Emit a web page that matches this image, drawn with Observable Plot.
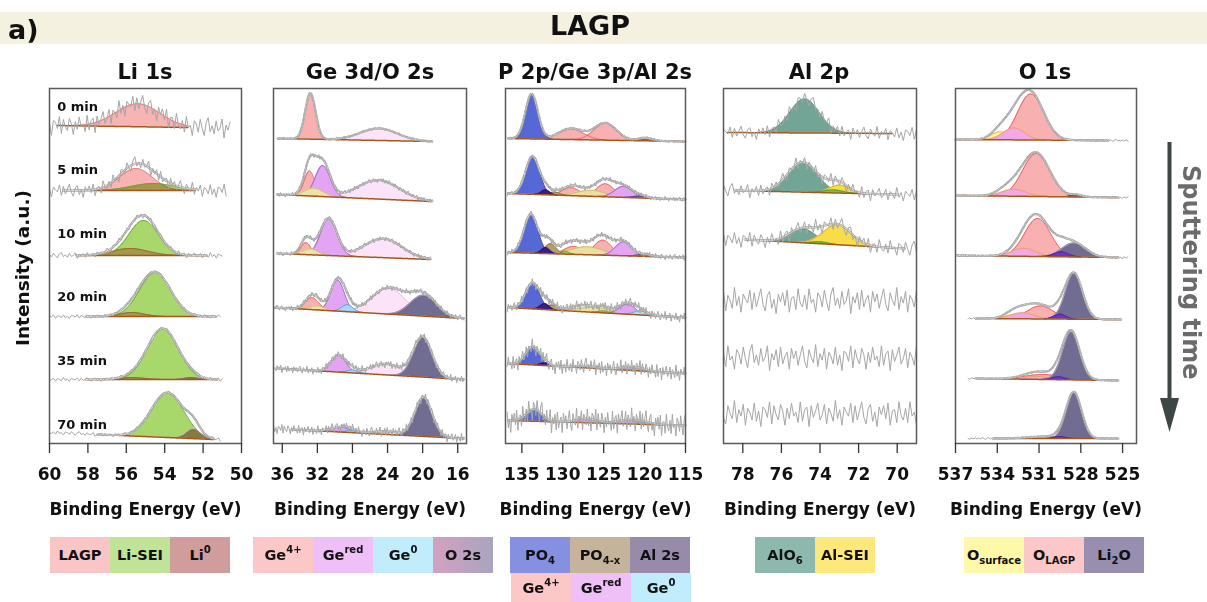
<!DOCTYPE html>
<html><head><meta charset="utf-8">
<script src="https://cdn.jsdelivr.net/npm/d3@7"></script>
<script src="https://cdn.jsdelivr.net/npm/@observablehq/plot@0.6"></script>
<style>
body{margin:0;width:1207px;height:602px;position:relative;overflow:hidden;background:#fff;font-family:"DejaVu Sans",sans-serif;font-weight:bold;color:#111;}
.abs{position:absolute;}
.ttl{position:absolute;font-size:21px;line-height:21px;white-space:nowrap;transform:translateX(-50%);}
.leg{position:absolute;display:flex;}
.leg > div{width:60px;height:36px;display:flex;align-items:center;justify-content:center;font-size:14.5px;white-space:nowrap;}
.leg.r2 > div{height:29px;}
.leg span{display:inline-block;line-height:16px;}
sup{font-size:10px;vertical-align:7px;line-height:0;}
sub{font-size:10px;vertical-align:-4px;line-height:0;}
.plotbox{position:absolute;top:86px;}
.plotbox svg{overflow:visible;}
</style></head><body>
<div class="abs" style="left:0;top:12px;width:1207px;height:32px;background:#f5f1e1;"></div>
<div class="abs" style="left:8px;top:16px;font-size:27px;line-height:27px;">a)</div>
<div class="abs" style="left:590px;top:12px;font-size:27px;line-height:27px;transform:translateX(-50%);">LAGP</div>
<div class="ttl" style="left:145px;top:62px;">Li 1s</div>
<div class="ttl" style="left:370px;top:62px;">Ge 3d/O 2s</div>
<div class="ttl" style="left:595px;top:62px;">P 2p/Ge 3p/Al 2s</div>
<div class="ttl" style="left:819px;top:62px;">Al 2p</div>
<div class="ttl" style="left:1045px;top:62px;">O 1s</div>
<div class="abs" style="left:13px;top:190px;font-size:18.5px;line-height:19px;writing-mode:vertical-rl;transform:rotate(180deg);white-space:nowrap;">Intensity (a.u.)</div>
<div class="abs" style="left:1179px;top:165px;font-size:24px;line-height:24px;writing-mode:vertical-rl;color:#6b6b6b;white-space:nowrap;">Sputtering time</div>
<svg class="abs" style="left:1150px;top:130px;" width="40" height="310">
  <line x1="19.5" y1="12" x2="19.5" y2="272" stroke="#3d4846" stroke-width="4"/>
  <polygon points="10,268 29,268 19.5,302" fill="#3d4846"/>
</svg>
<div id="plots"></div>
<div class="leg" style="left:50px;top:537px;"><div style="background:#f9c5c5"><span>LAGP</span></div><div style="background:#bfe397"><span>Li-SEI</span></div><div style="background:#d19c9c"><span>Li<sup>0</sup></span></div></div>
<div class="leg" style="left:253px;top:537px;"><div style="background:#fcc7c7"><span>Ge<sup>4+</sup></span></div><div style="background:#efbff8"><span>Ge<sup>red</sup></span></div><div style="background:#c1ecfb"><span>Ge<sup>0</sup></span></div><div style="background:linear-gradient(to right,#d3a1c1,#a9a4bf)"><span>O 2s</span></div></div>
<div class="leg" style="left:510px;top:537px;"><div style="background:#8690e0"><span>PO<sub>4</sub></span></div><div style="background:#c5b49b"><span>PO<sub>4-x</sub></span></div><div style="background:#988ba9"><span>Al 2s</span></div></div>
<div class="leg r2" style="left:511px;top:573px;"><div style="background:#fcc7c7"><span>Ge<sup>4+</sup></span></div><div style="background:#efbff8"><span>Ge<sup>red</sup></span></div><div style="background:#c1ecfb"><span>Ge<sup>0</sup></span></div></div>
<div class="leg" style="left:755px;top:537px;"><div style="background:#8db8ae"><span>AlO<sub>6</sub></span></div><div style="background:#fde97b"><span>Al-SEI</span></div></div>
<div class="leg" style="left:964px;top:537px;"><div style="background:#fdf9a9"><span>O<sub>surface</sub></span></div><div style="background:#fcc7c7"><span>O<sub>LAGP</sub></span></div><div style="background:#978eb0"><span>Li<sub>2</sub>O</span></div></div>
<script>
// ================= DATA =================
const times = ["0 min", "5 min", "10 min", "20 min", "35 min", "70 min"];

// peak rows: [component, centre (eV), height (a.u.), FWHM (eV)]
// background rows: [x start, x end, level at start, level at end] (stacked, a.u.)
// ---- Li 1s ----
const liDomain = [60, 50];
const liTicks = [60, 58, 56, 54, 52, 50];
const liSpan = [[60, 50.6], [60, 50.8], [60, 51.0], [60, 51.1], [60, 51.0], [60, 51.1]];
const liBg = [[59.6, 52.8, 318, 316], [59.3, 52.4, 253, 253], [58.6, 51.8, 188, 188], [58.1, 51.35, 127, 127], [58.1, 51.25, 64, 64], [57.5, 51.45, 9, 4]];
const liPeaks = [
  [["LAGP", 55.4, 23, 2.7]],
  [["LAGP", 55.5, 22, 2.0], ["SEI", 54.6, 7, 2.6]],
  [["LAGP", 55.8, 7, 2.2], ["SEI", 55.1, 35, 1.8]],
  [["LAGP", 55.7, 4, 1.5], ["SEI", 54.5, 44, 1.9]],
  [["LAGP", 55.7, 2, 1.5], ["SEI", 54.1, 51, 1.9], ["Li0", 52.6, 2, 0.8]],
  [["SEI", 53.85, 45, 2.0], ["Li0", 52.5, 9, 0.8]]
];
const liNoise = [10, 7, 3, 2, 2, 2];

// ---- Ge 3d / O 2s ----
const geDomain = [37, 15];
const geTicks = [36, 32, 28, 24, 20, 16];
const geSpan = [[36.6, 18.9], [36.6, 18.9], [36.6, 19.1], [37, 15.3], [37, 15.3], [37, 15.3]];
const geBg = [[36.5, 18.9, 305, 302], [36.6, 18.9, 249, 242], [36.6, 19.1, 190, 184], [36.8, 15.3, 136, 125], [36.5, 15.3, 75, 64], [34.9, 15.3, 14, 5]];
const gePeaks = [
  [["O2s", 25.0, 12, 5.0], ["Ge4", 32.8, 46, 1.4]],
  [["O2s", 25.0, 19, 5.5], ["Ge4", 32.9, 25, 1.4], ["Gered", 31.4, 31, 2.0], ["GeX", 32.4, 8, 2.5]],
  [["O2s", 24.5, 19, 5.0], ["Ge4", 33.3, 12, 1.3], ["Gered", 30.7, 37, 2.2], ["GeX", 32.8, 6, 2.0]],
  [["O2s", 23.9, 26, 4.5], ["Dark", 19.9, 21, 3.5], ["Ge4", 32.6, 12, 1.8], ["Gered", 29.7, 31, 1.8], ["GeX", 32.0, 4, 2.0], ["Ge0", 28.6, 7, 1.5]],
  [["O2s", 24.2, 11, 4.0], ["Dark", 20.0, 40, 2.5], ["Gered", 29.6, 17, 2.0], ["Ge0", 28.0, 3, 1.5]],
  [["O2s", 24.0, 3, 4.0], ["Dark", 19.9, 39, 2.3], ["Gered", 29.4, 5, 2.5], ["Ge0", 28.2, 2, 1.5]]
];
const geNoise = [1.5, 2.5, 2.5, 3, 4, 5];

// ---- P 2p / Ge 3p / Al 2s ----
const pDomain = [137, 115];
const pTicks = [135, 130, 125, 120, 115];
const pSpan = [[136.8, 115], [136.8, 115], [136.8, 115], [136.8, 115], [136.8, 115], [136.8, 115]];
const pBg = [[136.7, 115, 305, 302], [136.7, 115, 250, 244], [136.7, 115, 191, 186], [136.7, 115, 136, 126], [136.7, 115, 80, 70], [136.7, 115, 23, 18]];
const pPeaks = [
  [["PO4", 133.8, 45, 1.8], ["Ge4", 129.0, 11, 3.5], ["Ge4", 124.8, 17, 3.2], ["Al2s", 119.9, 3, 2.0]],
  [["PO4", 133.7, 38, 2.0], ["Indigo", 132.1, 5, 1.2], ["Tan", 131.0, 3, 1.5], ["Ge4", 129.0, 8, 2.5], ["GeX", 126.5, 6, 4.0], ["Ge4", 124.8, 13, 2.5], ["Gered", 122.6, 11, 2.5], ["Al2s", 120.5, 2, 2.0]],
  [["PO4", 133.9, 39, 2.0], ["Indigo", 132.1, 6, 1.2], ["Tan", 131.5, 10, 1.6], ["Green", 129.8, 3, 1.2], ["Ge4", 128.7, 8, 2.5], ["GeX", 127.0, 8, 4.5], ["Ge4", 125.1, 15, 2.5], ["Gered", 122.6, 14, 2.3], ["Al2s", 120.0, 2, 2.0]],
  [["PO4", 133.7, 26, 2.0], ["Indigo", 132.2, 6, 1.3], ["Tan", 131.3, 5, 1.5], ["Ge4", 128.0, 3, 3.0], ["GeX", 126.0, 5, 5.0], ["Green", 125.0, 2, 1.5], ["Gered", 122.1, 10, 2.3], ["Ge0", 120.5, 4, 2.0]],
  [["PO4", 133.7, 18, 2.0], ["Indigo", 132.2, 3, 1.2], ["Ge4", 127.0, 2, 3.0], ["Gered", 122.0, 3, 2.5], ["Ge0", 120.5, 2, 2.0]],
  [["PO4", 133.5, 12, 2.2], ["Gered", 127.0, 4, 3.0], ["Gered", 122.0, 4, 3.0], ["Ge0", 120.0, 2, 2.0]]
];
const pNoise = [1.5, 2.5, 3, 5, 8, 12];

// ---- Al 2p ----
const alDomain = [79, 69];
const alTicks = [78, 76, 74, 72, 70];
const alSpan = [[79, 69], [79, 69], [79, 69], [79, 69], [79, 69], [79, 69]];
const alBg = [[78.8, 70.25, 311, 310], [78.4, 70.0, 253, 249], [77.9, 69.6, 204, 195], [79, 69, 143, 143], [79, 69, 86, 86], [79, 69, 30, 30]];
const alFitted = [true, true, true, false, false, false];
const alPeaks = [
  [["AlO6", 74.8, 34, 1.8]],
  [["AlO6", 74.9, 30, 1.8], ["AlSEI", 73.0, 8, 1.2], ["AlG", 73.3, 3, 1.2]],
  [["AlO6", 74.9, 14, 1.6], ["AlSEI", 73.1, 20, 1.7], ["AlG", 74.0, 2, 1.0]],
  [], [], []
];
const alNoise = [7, 7, 8, 13, 13, 13];

// ---- O 1s ----
const oDomain = [537, 524];
const oTicks = [537, 534, 531, 528, 525];
const oSpan = [[537, 524.6], [537, 524.6], [537, 524.6], [536.1, 525.1], [536.1, 525.3], [536.1, 525.3]];
const oBg = [[537, 526.0, 304, 303], [536.9, 525.3, 248, 246], [536.9, 525.3, 188, 186], [535.55, 525.1, 125, 124], [535.55, 525.3, 65, 63], [534.3, 525.3, 5, 5]];
const oPeaks = [
  [["OLAGP", 531.6, 46, 2.2], ["Osurf", 533.8, 8, 1.5], ["Omix", 532.8, 12, 1.8]],
  [["OLAGP", 531.2, 43, 2.3], ["Osurf", 533.5, 3, 1.5], ["Omix", 532.8, 7, 2.0], ["Ov", 528.3, 2, 1.0]],
  [["OLAGP", 531.1, 38, 2.2], ["Omix", 532.1, 8, 2.0], ["Li2O", 528.5, 14, 2.0], ["Ov", 529.4, 5, 1.2]],
  [["OLAGP", 530.9, 13, 2.2], ["Osurf", 532.8, 4, 1.5], ["Omix", 532.2, 6, 2.0], ["Li2O", 528.5, 46, 1.45], ["Ov", 529.5, 5, 1.0]],
  [["OLAGP", 530.7, 5, 3.0], ["Omix", 531.2, 3, 2.0], ["Li2O", 528.7, 48, 1.45], ["Ov", 529.6, 3, 1.0]],
  [["OLAGP", 530.5, 2, 3.0], ["Li2O", 528.5, 46, 1.3], ["Ov", 529.5, 2, 1.0]]
];
const oNoise = [1, 1, 1.5, 1, 1, 1];

// measurement scatter (hand-typed residual pattern, fraction of row noise level)
const noiseSeq = [
  0.4, -0.7, 0.9, -0.2, 0.1, -0.9, 0.6, 0.3, -0.5, 0.8,
  -0.1, -0.8, 0.5, 1.0, -0.4, 0.2, -0.6, 0.7, -0.3, 0.0,
  0.9, -1.0, 0.3, -0.2, 0.6, -0.7, 0.8, -0.5, 0.1, 0.4,
  -0.9, 0.7, -0.1, 0.5, -0.6, 0.2, 0.9, -0.3, -0.8, 0.6,
  0.0, -0.4, 1.0, -0.7, 0.3, -0.2, 0.7, -0.9, 0.4, 0.1,
  -0.5, 0.8, -0.6, 0.2, -1.0, 0.5, 0.3, -0.3, 0.9, -0.8,
  0.6, -0.1, -0.5, 0.7, 0.2, -0.9, 0.4, -0.4, 0.8, -0.2,
  0.1, -0.7, 0.9, -0.6, 0.3, 0.5, -1.0, 0.6, -0.3, 0.2,
  0.8, -0.5, -0.1, 0.7, -0.8, 0.4, 0.0, -0.6, 1.0, -0.4,
  0.3, -0.9, 0.5, 0.1, -0.2, 0.8, -0.7, 0.6, -0.5, 0.2,
  0.9, -0.3, -0.8, 0.4, 0.7, -0.6, 0.1, -1.0, 0.5, -0.1,
  0.6, -0.4, 0.8, -0.9, 0.2, 0.3, -0.7, 0.9, -0.2, -0.5
];

// ================= STYLE =================
const liComps = [["LAGP", "#f8b3b3", "#e56a6a"], ["SEI", "#a8d86c", "#6b9d38"], ["Li0", "#cc9090", "#9a55a8"]];
const geComps = [["O2s", "#fde3f9", "#e3b0dd"], ["Dark", "#716c92", "#c99fb6"], ["Ge4", "#f8b0b0", "#e85858"], ["Gered", "#e3a5f3", "#9350c0"], ["GeX", "#ece3a8", "#c9b46a"], ["Ge0", "#a9d5f7", "#4a8fe0"]];
const pComps = [["Ge4", "#f8b0b0", "#e85858"], ["GeX", "#ece0a0", "#c8b060"], ["Gered", "#e3a5f3", "#9350c0"], ["Ge0", "#a9dcf7", "#4a9fe0"], ["Green", "#9ccc3c", "#6a9a1a"], ["Tan", "#b89b6c", "#8a6d3b"], ["PO4", "#5667d6", "#23307a"], ["Indigo", "#3b1d86", "#2a1060"], ["Al2s", "#7a5aa8", "#5a3a88"]];
const alComps = [["AlO6", "#72a596", "#5a8a7c"], ["AlSEI", "#f9dc4a", "#d4a520"], ["AlG", "#7ac142", "#4a9a20"]];
const oComps = [["OLAGP", "#f8b0b0", "#e85050"], ["Osurf", "#fbf29a", "#e6b030"], ["Omix", "#f3a8e6", "#e8a040"], ["Li2O", "#716c92", "#c0a8c0"], ["Ov", "#6a35c8", "#4a20a0"]];

function samples(a, b, step) {
  const n = Math.max(2, Math.ceil(Math.abs(a - b) / step));
  const out = [];
  for (let k = 0; k <= n; k++) out.push(a + (b - a) * k / n);
  return out;
}
const bgAt = (b, x) => b[2] + (b[3] - b[2]) * (x - b[0]) / (b[1] - b[0]);
const peakAt = (x, p) => { const s = p[3] / 2.3548; return p[2] * Math.exp(-0.5 * ((x - p[1]) / s) ** 2); };

function buildPanel(cfg) {
  const {left, frameW, dom, ticks, span, bg, peaks, noiseAmp, comps, blend, pxStep, fitted, seed, labels} = cfg;
  const unitPerPx = Math.abs(dom[0] - dom[1]) / frameW;
  const stepData = pxStep * unitPerPx, stepFine = 0.7 * unitPerPx;
  const compData = new Map(comps.map(c => [c[0], []]));
  const bgLine = [], env = [], dat = [];
  peaks.forEach((row, r) => {
    const b = bg[r];
    const fit = fitted ? fitted[r] : true;
    const sum = x => row.reduce((s, p) => s + peakAt(x, p), 0);
    if (fit) {
      const xs = samples(b[0], b[1], stepFine);
      for (const x of xs) bgLine.push({x, y: bgAt(b, x), z: r});
      row.forEach((p, j) => {
        for (const x of xs) {
          const v = peakAt(x, p);
          if (v > 0.12) compData.get(p[0]).push({x, lo: bgAt(b, x), hi: bgAt(b, x) + v, z: r + "-" + j});
        }
      });
      if (row.length > 1) for (const x of xs) env.push({x, y: bgAt(b, x) + sum(x), z: r});
    }
    samples(span[r][0], span[r][1], stepData).forEach((x, k) => {
      dat.push({x, y: bgAt(b, x) + sum(x) + noiseSeq[(k + r * 37 + seed * 53) % noiseSeq.length] * noiseAmp[r], z: r});
    });
  });
  const marks = [];
  for (const [name, fill, stroke] of comps) {
    const d = compData.get(name);
    const opt = {x: "x", y1: "lo", y2: "hi", z: "z", fill};
    if (blend) opt.mixBlendMode = blend;
    marks.push(Plot.areaY(d, opt));
    marks.push(Plot.lineY(d, {x: "x", y: "hi", z: "z", stroke, strokeWidth: 0.9}));
  }
  marks.push(Plot.lineY(bgLine, {x: "x", y: "y", z: "z", stroke: "#a5561b", strokeWidth: 1.5}));
  marks.push(Plot.lineY(env, {x: "x", y: "y", z: "z", stroke: "#a0a0a0", strokeWidth: 2.2}));
  marks.push(Plot.lineY(env, {x: "x", y: "y", z: "z", stroke: "#ffffff", strokeWidth: 0.9}));
  marks.push(Plot.lineY(dat, {x: "x", y: "y", z: "z", stroke: "#a6a6a6", strokeWidth: 1}));
  if (labels) {
    marks.push(Plot.text(labels, {x: () => dom[0] - 0.4, y: (d, i) => 337 - i * 63.6, text: d => d, textAnchor: "start", fontSize: 13, fontWeight: "bold", fill: "#111"}));
  }
  marks.push(Plot.frame({stroke: "#5a5a5a", strokeWidth: 1.5}));
  marks.push(Plot.axisX(ticks, {tickSize: 10, tickPadding: 14, stroke: "#333", strokeWidth: 1.3, label: "Binding Energy (eV)", labelAnchor: "center", labelArrow: "none", labelOffset: 71, tickFormat: d => String(d)}));
  const svg = Plot.plot({
    width: frameW + 60, height: 437,
    marginTop: 2, marginBottom: 80, marginLeft: 30, marginRight: 30,
    x: {domain: dom},
    y: {domain: [0, 355], axis: null},
    style: "font-family:'DejaVu Sans',sans-serif;font-size:17px;font-weight:bold;color:#111;background:none;overflow:visible;",
    marks
  });
  const box = document.createElement("div");
  box.className = "plotbox";
  box.style.left = (left - 30) + "px";
  box.appendChild(svg);
  document.getElementById("plots").appendChild(box);
}

buildPanel({left: 49, frameW: 192, dom: liDomain, ticks: liTicks, span: liSpan, bg: liBg, peaks: liPeaks, noiseAmp: liNoise, comps: liComps, blend: "multiply", pxStep: 2, seed: 1, labels: times});
buildPanel({left: 273, frameW: 193, dom: geDomain, ticks: geTicks, span: geSpan, bg: geBg, peaks: gePeaks, noiseAmp: geNoise, comps: geComps, pxStep: 1.2, seed: 2});
buildPanel({left: 505, frameW: 180, dom: pDomain, ticks: pTicks, span: pSpan, bg: pBg, peaks: pPeaks, noiseAmp: pNoise, comps: pComps, pxStep: 1.2, seed: 3});
buildPanel({left: 723, frameW: 193, dom: alDomain, ticks: alTicks, span: alSpan, bg: alBg, peaks: alPeaks, noiseAmp: alNoise, comps: alComps, pxStep: 2.2, seed: 4, fitted: alFitted});
buildPanel({left: 955, frameW: 181, dom: oDomain, ticks: oTicks, span: oSpan, bg: oBg, peaks: oPeaks, noiseAmp: oNoise, comps: oComps, pxStep: 1.5, seed: 5});
</script>
</body></html>
